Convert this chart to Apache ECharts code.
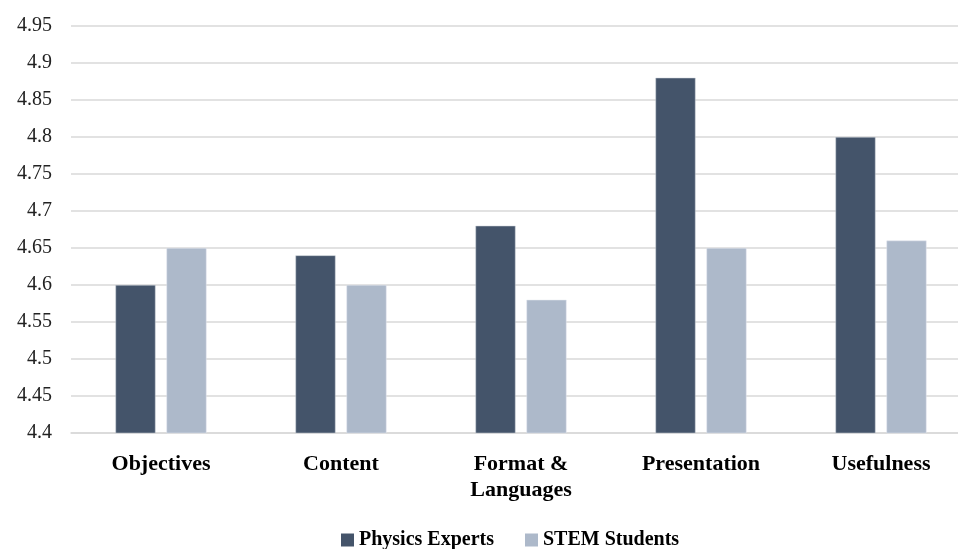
<!DOCTYPE html>
<html>
<head>
<meta charset="utf-8">
<script src="https://cdn.jsdelivr.net/npm/echarts@6/dist/echarts.min.js"></script>
<style>
  html, body { margin: 0; padding: 0; background: #fff; overflow: hidden; }
  /* the source picture is cut off on the right, so the chart runs past the edge */
  #main { width: 971px; height: 549px; }
</style>
</head>
<body>
<div id="main"></div>
<script>
// categories and values
var categories = ['Objectives', 'Content', 'Format &\nLanguages', 'Presentation', 'Usefulness'];
var seriesNames = ['Physics Experts', 'STEM Students'];
var physicsExperts = [4.60, 4.64, 4.68, 4.88, 4.80];
var stemStudents = [4.65, 4.60, 4.58, 4.65, 4.66];
var colors = ['#44546A', '#ADB9CA'];

var font = '"Liberation Serif", "DejaVu Serif", serif';

var myChart = echarts.init(document.getElementById('main'));
myChart.setOption({
  animation: false,
  color: colors,
  textStyle: { fontFamily: font },
  grid: { left: 71, right: 0, top: 26, bottom: 116 },
  legend: {
    data: seriesNames,
    bottom: -6,
    left: 336,
    itemWidth: 13,
    itemHeight: 13,
    itemGap: 31,
    icon: 'rect',
    itemStyle: { borderWidth: 0 },
    textStyle: { fontFamily: font, fontSize: 20, fontWeight: 'bold', color: '#000' }
  },
  xAxis: {
    type: 'category',
    data: categories,
    axisTick: { show: false },
    axisLine: { lineStyle: { color: '#D9D9D9', width: 1.5 } },
    axisLabel: {
      margin: 18,
      fontFamily: font,
      fontSize: 22,
      fontWeight: 'bold',
      color: '#000',
      lineHeight: 26
    }
  },
  yAxis: {
    type: 'value',
    min: 4.4,
    max: 4.95,
    interval: 0.05,
    axisLine: { show: false },
    axisTick: { show: false },
    axisLabel: { fontFamily: font, fontSize: 20, color: '#222', margin: 19 },
    splitLine: { lineStyle: { color: '#D9D9D9', width: 1.5 } }
  },
  series: [
    {
      name: seriesNames[0],
      type: 'bar',
      data: physicsExperts,
      barWidth: 40,
      barGap: '27.5%',
      itemStyle: { borderColor: '#C9CED6', borderWidth: 0.5 }
    },
    {
      name: seriesNames[1],
      type: 'bar',
      data: stemStudents,
      barWidth: 40,
      barGap: '27.5%',
      itemStyle: { borderColor: '#E3E7EE', borderWidth: 0.5 }
    }
  ]
});
</script>
</body>
</html>
